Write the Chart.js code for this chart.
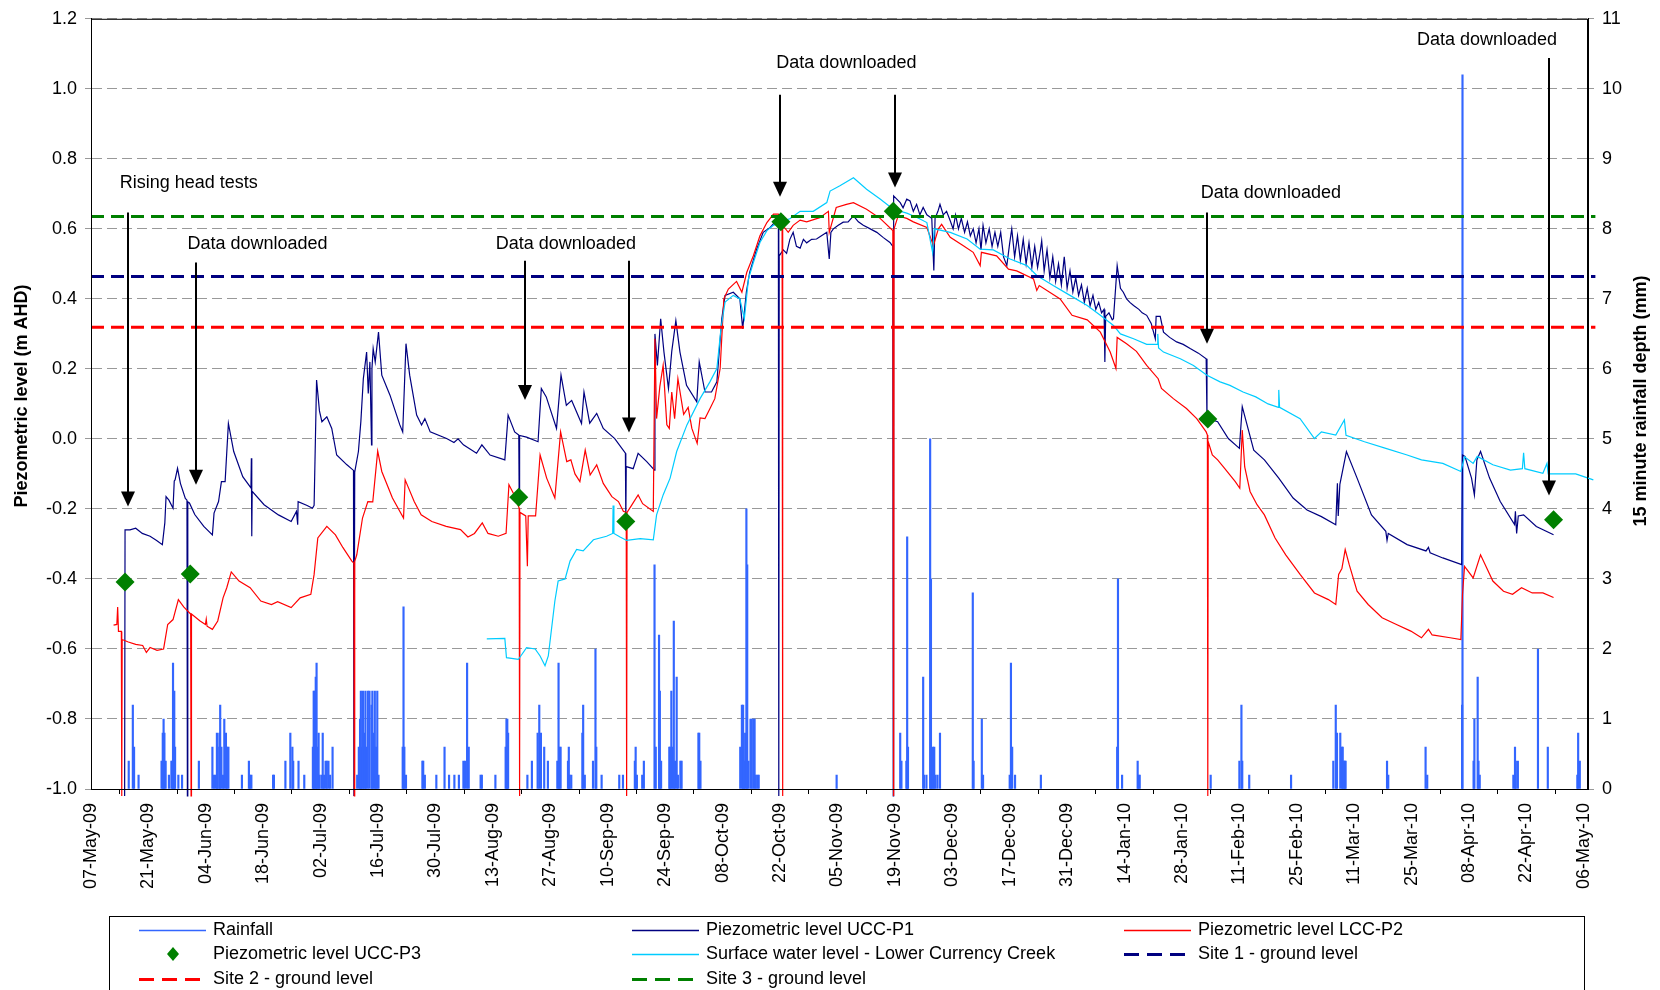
<!DOCTYPE html>
<html>
<head>
<meta charset="utf-8">
<script src="https://cdn.jsdelivr.net/npm/chart.js@4.4.1/dist/chart.umd.min.js"></script>
<style>
  html, body { margin: 0; padding: 0; background: #fff; }
  canvas { display: block; }
</style>
</head>
<body>
<canvas id="chartCanvas" width="1660" height="990"></canvas>
<script>
// x values are days after 07-May-09
const tickDays = [0,14,28,42,56,70,84,98,112,126,140,154,168,182,196,210,224,238,252,266,280,294,308,322,336,350,364];
const tickLabels = ["07-May-09","21-May-09","04-Jun-09","18-Jun-09","02-Jul-09","16-Jul-09","30-Jul-09","13-Aug-09","27-Aug-09","10-Sep-09","24-Sep-09","08-Oct-09","22-Oct-09","05-Nov-09","19-Nov-09","03-Dec-09","17-Dec-09","31-Dec-09","14-Jan-10","28-Jan-10","11-Feb-10","25-Feb-10","11-Mar-10","25-Mar-10","08-Apr-10","22-Apr-10","06-May-10"];
const leftTicks = [-1.0,-0.8,-0.6,-0.4,-0.2,0.0,0.2,0.4,0.6,0.8,1.0,1.2];
const rightTicks = [0,1,2,3,4,5,6,7,8,9,10,11];

// rainfall (mm per 15 min)
const rainDay = [9.2,10.2,10.5,11.6,17.2,17.5,17.7,17.9,18.2,19.0,19.6,19.9,20.0,20.3,20.5,21.3,22.2,26.3,29.6,30.0,30.4,30.7,30.9,31.3,31.5,31.8,32.2,32.5,32.9,33.2,33.5,36.8,38.5,38.8,39.1,44.4,44.6,47.4,48.6,49.1,49.3,50.6,52.0,54.1,54.3,54.5,54.8,55.0,55.2,55.5,55.7,56.2,56.5,56.8,57.2,57.5,57.9,58.3,58.9,64.9,65.3,65.6,65.8,66.0,66.3,66.6,66.9,67.1,67.5,67.9,68.4,68.6,68.9,69.2,69.5,69.8,70.1,76.0,76.2,76.4,76.8,80.8,81.0,81.4,84.2,86.2,87.3,88.6,89.7,90.8,91.2,91.7,92.1,95.0,95.3,98.6,101.1,101.3,101.5,101.7,106.4,107.5,108.9,109.3,109.7,110.5,111.4,113.7,114.0,114.2,114.5,116.3,116.5,116.7,117.1,119.8,120.0,120.4,122.4,123.0,123.2,124.5,128.8,129.7,132.6,132.8,133.1,134.4,134.8,137.4,137.7,138.5,138.7,139.0,141.0,141.2,141.5,141.8,142.1,142.4,142.8,143.1,143.7,144.0,148.1,148.3,148.6,158.3,158.7,159.0,159.2,159.5,159.8,160.0,160.3,160.8,161.1,161.5,161.8,162.1,162.5,162.8,181.8,197.3,197.6,198.8,199.0,199.2,202.9,203.1,203.7,204.6,204.8,205.0,205.3,205.6,205.9,206.4,207.0,215.0,215.2,217.2,217.5,224.0,224.3,224.6,225.3,231.6,250.2,250.4,251.4,255.2,255.4,255.7,273.0,280.0,280.5,280.7,282.4,292.6,302.9,303.5,303.8,304.6,305.0,305.2,305.5,305.7,305.9,316.0,316.3,325.4,325.8,334.3,334.4,337.1,337.3,338.1,338.3,338.6,346.8,347.2,347.4,347.9,352.8,355.2,362.4,362.6,363.0];
const rainMm = [0.4,1.2,0.6,0.2,0.4,0.8,1.0,0.8,0.4,0.2,0.4,0.4,1.8,1.4,0.6,0.2,0.2,0.4,0.6,0.2,0.2,0.8,0.6,0.8,1.2,0.6,0.2,1.0,0.8,0.6,0.6,0.2,0.4,0.2,0.2,0.2,0.2,0.4,0.8,0.6,0.4,0.4,0.2,0.6,1.4,1.4,1.6,1.8,0.6,0.8,0.2,0.2,0.8,0.2,0.4,0.4,0.4,0.2,0.6,0.2,0.6,1.0,1.4,0.6,1.4,0.8,1.4,0.6,1.4,1.4,1.2,1.4,0.8,1.4,0.6,1.4,0.2,0.6,2.6,0.6,0.2,0.4,0.4,0.2,0.2,0.6,0.2,0.2,0.2,0.4,0.4,1.8,0.6,0.2,0.2,0.2,0.6,1.0,1.0,0.8,0.2,0.4,0.8,1.2,0.8,0.6,0.4,0.4,1.8,0.6,0.6,0.4,0.6,0.2,0.2,0.8,1.2,0.2,0.4,2.0,0.6,0.2,0.2,0.2,0.4,0.6,0.2,0.2,0.4,3.2,0.6,2.2,1.4,0.4,0.6,0.6,1.4,0.6,2.4,0.4,1.6,0.2,0.4,0.4,0.8,0.8,0.4,0.6,1.2,1.2,0.4,0.8,4.0,3.2,0.4,1.0,1.0,1.0,1.0,0.2,0.2,0.2,0.2,0.8,0.4,0.4,3.6,0.6,1.6,0.2,0.2,5.0,3.0,0.2,0.6,0.6,0.2,0.2,0.8,2.8,0.4,1.0,0.2,0.2,1.8,0.6,0.2,0.2,0.6,3.0,0.2,0.4,0.2,0.2,0.2,0.4,1.2,0.4,0.2,0.2,0.4,1.2,0.8,0.8,0.6,0.6,0.4,0.4,0.4,0.4,0.2,0.6,0.2,1.2,10.2,0.4,1.0,1.6,0.4,0.2,0.2,0.6,0.4,0.4,2.0,0.6,0.2,0.8,0.4];

// Piezometric level UCC-P1 (m AHD)
const p1Day = [8.2,8.3,9.5,10.9,12.5,14.4,16.0,17.4,18.0,18.3,19.0,20.0,20.3,20.5,21.1,21.8,23.0,23.4,23.5,23.6,24.0,25.3,27.5,29.6,30.0,31.1,31.8,32.7,33.5,34.8,37.0,39.0,39.1,39.2,39.3,42.2,45.7,48.8,50.1,50.4,50.5,52.7,54.0,54.4,55.0,55.7,56.3,57.5,58.7,59.9,62.4,64.0,64.1,64.3,65.2,65.8,66.4,67.2,67.6,68.0,68.4,68.5,68.8,69.3,70.1,70.9,72.9,75.3,76.0,76.8,77.7,79.4,80.6,81.4,82.7,86.7,88.5,89.5,90.8,94.0,95.3,97.3,100.9,101.7,103.3,104.3,104.4,104.5,106.2,109.0,109.8,111.0,113.5,114.6,115.9,117.2,119.6,120.2,121.6,123.3,124.9,127.7,130.3,130.4,130.5,132.2,133.4,135.5,137.4,137.5,138.1,138.9,139.7,140.8,141.6,142.6,143.6,145.2,147.7,148.3,149.7,151.3,152.6,153.8,154.6,156.6,158.2,158.9,159.8,160.6,162.3,163.9,165.6,166.8,167.6,167.7,167.8,168.8,169.6,170.4,171.2,172.0,172.9,173.7,174.5,175.7,176.9,178.1,179.4,180.0,180.4,181.0,182.2,183.4,184.6,185.9,187.1,188.3,190.0,191.6,193.2,194.8,195.5,195.6,195.7,197.3,198.0,198.9,199.7,200.5,201.3,202.1,202.9,203.8,205.0,205.5,205.8,206.5,207.0,207.8,208.6,209.5,210.2,210.8,211.5,212.2,213.0,213.7,214.4,215.1,215.8,216.5,217.0,217.5,218.2,219.0,219.7,220.4,221.1,221.8,222.5,223.3,224.0,224.5,225.2,225.9,226.6,227.3,228.0,228.7,229.4,230.1,230.8,231.5,231.8,232.4,233.1,233.8,234.5,235.2,235.9,236.6,237.3,238.0,238.7,239.4,240.1,240.8,241.5,242.2,242.9,243.6,244.3,245.0,245.7,246.4,247.0,247.2,247.4,248.2,249.0,249.3,250.2,251.0,251.7,252.5,253.3,254.2,255.5,256.3,257.4,258.5,259.5,259.7,260.7,261.5,263.0,264.7,266.3,268.0,270.0,271.9,272.1,272.4,274.7,277.3,280.0,280.7,283.5,286.1,289.6,293.1,296.5,300.0,303.5,303.9,304.1,304.5,306.1,308.7,312.2,315.7,316.0,316.3,320.9,325.5,326.1,326.5,329.6,334.2,334.4,335.0,336.6,337.3,337.9,338.8,341.0,343.6,347.1,347.3,347.6,348.0,349.3,352.4,356.6];
const p1Val = [-1.02,-0.26,-0.26,-0.255,-0.27,-0.278,-0.29,-0.302,-0.24,-0.165,-0.175,-0.198,-0.12,-0.117,-0.084,-0.127,-0.17,-0.175,-1.02,-0.18,-0.183,-0.216,-0.25,-0.274,-0.212,-0.179,-0.122,-0.122,0.044,-0.036,-0.108,-0.14,-0.055,-0.278,-0.15,-0.188,-0.217,-0.236,-0.207,-0.245,-0.179,-0.19,-0.198,-0.19,0.168,0.08,0.049,0.063,0.030,-0.046,-0.074,-0.09,-1.02,-0.095,-0.036,0.05,0.172,0.248,0.13,0.22,-0.017,0.20,0.258,0.22,0.305,0.182,0.125,0.040,0.020,0.272,0.182,0.068,0.040,0.058,0.020,0.001,-0.01,0.0,-0.017,-0.041,-0.017,-0.046,-0.060,0.068,0.020,0.011,-0.167,0.01,0.005,-0.008,0.144,0.12,0.030,0.182,0.096,0.11,0.044,0.134,0.045,0.073,0.030,0.001,-0.041,-0.236,-0.079,-0.085,-0.041,-0.065,-0.089,0.30,0.210,0.343,0.248,0.144,0.25,0.338,0.248,0.153,0.106,0.220,0.134,0.134,0.163,0.343,0.410,0.419,0.40,0.315,0.42,0.476,0.542,0.590,0.604,0.62,0.61,-1.02,0.523,0.54,0.53,0.57,0.590,0.55,0.545,0.57,0.56,0.57,0.571,0.58,0.59,0.514,0.59,0.60,0.61,0.619,0.62,0.637,0.62,0.61,0.60,0.590,0.575,0.561,0.55,-1.02,0.694,0.675,0.66,0.685,0.68,0.65,0.67,0.64,0.661,0.64,0.63,0.481,0.63,0.65,0.670,0.64,0.65,0.623,0.60,0.64,0.60,0.63,0.59,0.62,0.58,0.60,0.56,0.60,0.54,0.61,0.56,0.60,0.55,0.59,0.55,0.59,0.52,0.495,0.56,0.60,0.52,0.58,0.51,0.57,0.50,0.56,0.49,0.55,0.49,0.54,0.566,0.48,0.54,0.46,0.52,0.45,0.50,0.44,0.52,0.43,0.48,0.42,0.46,0.41,0.44,0.39,0.43,0.38,0.41,0.37,0.39,0.36,0.37,0.22,0.35,0.36,0.34,0.343,0.495,0.43,0.419,0.40,0.39,0.381,0.37,0.36,0.353,0.33,0.286,0.35,0.35,0.305,0.29,0.277,0.27,0.258,0.245,0.229,0.057,0.058,0.049,0.001,-0.027,0.092,-0.032,-0.060,-0.112,-0.169,-0.203,-0.222,-0.245,-0.127,-0.22,-0.13,-0.036,-0.112,-0.217,-0.264,-0.29,-0.27,-0.302,-0.32,-0.31,-0.325,-0.340,-0.359,-0.046,-0.05,-0.112,-0.160,-0.06,-0.036,-0.112,-0.179,-0.245,-0.207,-0.27,-0.22,-0.217,-0.250,-0.274];

// Piezometric level LCC-P2 (m AHD)
const p2Day = [5.5,6.3,6.5,6.7,7.4,7.5,7.6,9.1,10.9,12.6,13.5,14.4,16.1,17.7,18.7,20.0,21.3,22.6,24.3,24.4,24.5,26.6,27.9,28.1,28.3,29.6,30.9,32.2,33.1,34.2,36.1,38.8,41.4,44.0,45.5,48.8,51.0,53.6,54.4,55.3,57.5,59.6,61.4,63.6,64.1,64.2,64.3,64.8,66.2,67.5,68.7,69.9,70.9,73.5,76.2,76.6,78.8,80.5,83.1,86.6,90.1,91.9,93.5,95.4,96.8,99.3,101.2,101.9,103.2,104.4,104.5,104.6,106.0,106.4,106.6,108.4,109.5,111.1,113.1,114.5,116.0,117.0,118.0,119.2,120.5,121.7,123.3,124.9,127.0,128.6,129.8,130.5,130.6,130.7,131.8,133.4,134.5,137.1,137.5,137.9,138.7,139.5,140.4,141.0,141.6,142.3,143.1,144.5,145.6,146.5,147.8,148.5,149.7,150.9,152.1,153.4,154.3,155.4,157.4,158.7,159.9,161.5,163.1,164.8,166.4,167.6,168.5,168.6,168.7,170.0,171.2,172.9,174.5,177.7,179.8,180.0,181.7,184.2,185.9,189.1,192.4,195.5,195.7,195.8,196.8,198.9,200.5,203.8,205.4,206.6,207.4,209.5,212.7,215.1,216.8,217.1,220.8,223.7,225.7,229.8,230.6,231.2,236.3,239.2,242.9,246.1,248.5,249.9,250.2,252.5,254.9,257.4,260.2,261.0,263.9,267.1,269.6,271.9,272.2,272.3,272.4,273.4,274.7,276.4,279.0,280.1,280.7,281.3,282.6,284.3,286.1,288.7,291.3,294.8,298.3,301.7,303.5,304.2,305.0,305.8,306.8,308.7,311.4,314.8,318.3,321.8,324.4,326.1,327.0,331.4,334.0,334.4,334.9,337.0,338.8,341.8,344.4,346.6,348.8,351.4,354.0,356.6];
const p2Val = [-0.532,-0.53,-0.48,-0.55,-0.55,-1.02,-0.573,-0.58,-0.587,-0.59,-0.61,-0.596,-0.604,-0.60,-0.530,-0.516,-0.459,-0.48,-0.50,-1.02,-0.50,-0.520,-0.53,-0.515,-0.535,-0.544,-0.52,-0.454,-0.425,-0.380,-0.406,-0.425,-0.463,-0.473,-0.465,-0.482,-0.454,-0.444,-0.387,-0.283,-0.250,-0.274,-0.31,-0.349,-0.355,-1.02,-0.35,-0.331,-0.226,-0.179,-0.18,-0.035,-0.093,-0.169,-0.226,-0.117,-0.179,-0.217,-0.236,-0.250,-0.259,-0.28,-0.27,-0.240,-0.27,-0.278,-0.27,-0.131,-0.16,-0.198,-1.02,-0.21,-0.22,-0.364,-0.22,-0.22,-0.046,-0.112,-0.169,0.020,-0.065,-0.06,-0.10,-0.122,-0.032,-0.103,-0.074,-0.127,-0.165,-0.179,-0.207,-0.21,-1.02,-0.21,-0.19,-0.160,-0.185,-0.207,0.286,0.058,0.15,0.210,0.040,0.03,0.134,0.058,0.172,0.07,0.09,0.030,-0.013,0.06,0.058,0.086,0.115,0.201,0.400,0.428,0.45,0.419,0.476,0.523,0.580,0.618,0.642,0.642,0.613,-1.02,0.61,0.59,0.61,0.625,0.62,0.632,0.65,0.590,0.661,0.67,0.675,0.656,0.63,0.595,-1.02,0.60,0.637,0.63,0.62,0.604,0.552,0.60,0.613,0.576,0.552,0.533,0.495,0.533,0.523,0.485,0.48,0.457,0.424,0.438,0.400,0.353,0.34,0.305,0.248,0.201,0.29,0.272,0.25,0.210,0.172,0.144,0.115,0.087,0.058,0.020,0.011,-1.02,-0.008,-0.046,-0.060,-0.084,-0.122,-0.141,0.025,-0.08,-0.150,-0.188,-0.217,-0.283,-0.331,-0.387,-0.440,-0.459,-0.473,-0.387,-0.37,-0.316,-0.36,-0.435,-0.473,-0.511,-0.530,-0.549,-0.568,-0.544,-0.56,-0.568,-0.573,-0.444,-0.364,-0.397,-0.331,-0.406,-0.435,-0.444,-0.425,-0.44,-0.44,-0.453];

// Piezometric level UCC-P3 (m AHD), manual readings
const p3Day = [8.3,24.2,104.3,130.4,168.2,195.6,272.3,356.6];
const p3Val = [-0.409,-0.386,-0.167,-0.236,0.620,0.650,0.057,-0.231];

// Surface water level - Lower Currency Creek (m AHD)
const swDay = [96.5,100.9,101.3,104.2,106.2,108.3,109.5,110.7,111.5,113.1,113.9,115.6,116.8,118.4,120.0,122.5,125.7,127.2,127.3,127.5,129.0,130.6,133.9,137.1,137.9,139.5,141.2,142.8,145.3,148.5,150.9,152.6,153.6,154.6,156.6,158.2,159.3,160.3,161.5,163.1,164.8,166.4,168.0,170.4,172.9,176.1,179.4,180.2,182.6,185.9,189.1,192.4,195.6,198.9,201.3,203.8,205.2,205.6,209.5,213.6,216.8,220.0,224.1,228.2,230.6,234.6,238.7,242.9,246.1,249.3,251.0,254.2,257.4,260.0,260.1,260.3,261.5,265.6,268.8,272.1,275.3,277.7,280.9,284.0,287.0,289.5,289.6,289.8,294.8,298.3,300.0,303.5,305.6,306.0,310.5,315.7,320.9,324.4,329.6,334.0,334.9,337.0,338.0,341.8,346.1,349.0,349.3,349.6,354.0,355.0,355.3,359.2,362.0,366.3];
const swVal = [-0.571,-0.57,-0.625,-0.63,-0.596,-0.60,-0.62,-0.648,-0.62,-0.463,-0.406,-0.40,-0.349,-0.316,-0.32,-0.288,-0.278,-0.27,-0.19,-0.27,-0.28,-0.29,-0.285,-0.288,-0.217,-0.160,-0.112,-0.036,0.040,0.115,0.163,0.201,0.315,0.391,0.41,0.40,0.343,0.457,0.504,0.561,0.595,0.61,0.62,0.629,0.65,0.65,0.675,0.708,0.723,0.746,0.713,0.685,0.656,0.645,0.633,0.618,0.533,0.6,0.590,0.571,0.542,0.54,0.514,0.495,0.467,0.438,0.410,0.381,0.353,0.324,0.30,0.286,0.27,0.27,0.30,0.26,0.248,0.229,0.210,0.182,0.163,0.153,0.134,0.12,0.10,0.09,0.14,0.09,0.058,0.001,0.020,0.011,0.054,0.01,-0.008,-0.027,-0.046,-0.060,-0.070,-0.093,-0.051,-0.07,-0.05,-0.074,-0.089,-0.085,-0.04,-0.085,-0.098,-0.07,-0.10,-0.10,-0.10,-0.117];

// ground levels (m AHD)
const groundDay = [0, 366.8];
const site1Level = 0.464;
const site2Level = 0.319;
const site3Level = 0.635;

// annotations
const noteText = ["Rising head tests","Data downloaded","Data downloaded","Data downloaded","Data downloaded","Data downloaded"];
const noteDay = [7.0, 23.5, 98.7, 167.1, 270.6, 323.3];
const noteVal = [0.732, 0.556, 0.556, 1.074, 0.702, 1.140];
const arrowDay = [9.0, 25.5, 105.7, 131.1, 168.0, 196.0, 272.2, 355.4];
const arrowTop = [0.647, 0.504, 0.509, 0.509, 0.983, 0.983, 0.647, 1.088];
const arrowTip = [-0.193, -0.131, 0.111, 0.018, 0.692, 0.718, 0.272, -0.162];

const FONT = '"Liberation Sans", Arial, sans-serif';
Chart.defaults.font.family = FONT;
Chart.defaults.font.size = 18;
Chart.defaults.color = '#000';

function pts(xs, ys) {
  return xs.map((d, i) => ({x: d, y: ys[i]}));
}
function flat(xs, v) {
  return xs.map(d => ({x: d, y: v}));
}

const decor = {
  id: 'decor',
  afterDatasetsDraw(chart) {
    const {ctx, chartArea: a} = chart;
    const sx = chart.scales.x, sy = chart.scales.y;
    ctx.save();
    ctx.strokeStyle = '#000';
    ctx.lineWidth = 1;
    ctx.strokeRect(a.left + 0.5, a.top + 0.5, a.right - a.left - 1, a.bottom - a.top);

    // arrows
    ctx.fillStyle = '#000';
    ctx.lineWidth = 2;
    for (let i = 0; i < arrowDay.length; i++) {
      const px = Math.round(sx.getPixelForValue(arrowDay[i]));
      const y0 = sy.getPixelForValue(arrowTop[i]);
      const y1 = sy.getPixelForValue(arrowTip[i]);
      ctx.beginPath();
      ctx.moveTo(px, y0);
      ctx.lineTo(px, y1 - 10);
      ctx.stroke();
      ctx.beginPath();
      ctx.moveTo(px - 7, y1 - 15);
      ctx.lineTo(px + 7, y1 - 15);
      ctx.lineTo(px, y1);
      ctx.closePath();
      ctx.fill();
    }
    ctx.font = '18px ' + FONT;
    ctx.textAlign = 'left';
    ctx.textBaseline = 'middle';
    for (let i = 0; i < noteText.length; i++) {
      ctx.fillText(noteText[i], sx.getPixelForValue(noteDay[i]), sy.getPixelForValue(noteVal[i]));
    }
    ctx.restore();
  },
  afterDraw(chart) {
    const ctx = chart.ctx;
    ctx.save();
    // axis titles
    ctx.font = 'bold 18px ' + FONT;
    ctx.fillStyle = '#000';
    ctx.textAlign = 'center';
    ctx.textBaseline = 'middle';
    ctx.translate(22, 396);
    ctx.rotate(-Math.PI / 2);
    ctx.fillText('Piezometric level (m AHD)', 0, 0);
    ctx.setTransform(1, 0, 0, 1, 0, 0);
    ctx.translate(1641, 401);
    ctx.rotate(-Math.PI / 2);
    ctx.fillText('15 minute rainfall depth (mm)', 0, 0);
    ctx.setTransform(1, 0, 0, 1, 0, 0);

    // legend
    ctx.strokeStyle = '#000';
    ctx.lineWidth = 1;
    ctx.strokeRect(109.5, 916.5, 1475, 120);
    const colX = [139, 632, 1124];
    const rowY = [930, 954, 979];
    ctx.font = '18px ' + FONT;
    ctx.textAlign = 'left';
    chart.data.datasets.forEach((ds, i) => {
      const cx = colX[i % 3], cy = rowY[Math.floor(i / 3)];
      if (ds.showLine === false) {
        ctx.fillStyle = ds.backgroundColor;
        ctx.beginPath();
        ctx.moveTo(cx + 34, cy - 7);
        ctx.lineTo(cx + 40, cy);
        ctx.lineTo(cx + 34, cy + 7);
        ctx.lineTo(cx + 28, cy);
        ctx.closePath();
        ctx.fill();
      } else {
        ctx.strokeStyle = ds.type === 'bar' ? ds.backgroundColor : ds.borderColor;
        ctx.lineWidth = ds.borderDash ? 3 : 1.5;
        ctx.setLineDash(ds.borderDash ? [15, 8] : []);
        ctx.beginPath();
        ctx.moveTo(cx, cy + 0.5);
        ctx.lineTo(cx + 67, cy + 0.5);
        ctx.stroke();
        ctx.setLineDash([]);
      }
      ctx.fillStyle = '#000';
      ctx.fillText(ds.label, cx + 74, cy);
    });
    ctx.restore();
  }
};

const canvas = document.getElementById('chartCanvas');
const chart = new Chart(canvas, {
  type: 'line',
  data: {
    datasets: [{
      type: 'bar',
      label: 'Rainfall',
      data: pts(rainDay, rainMm),
      yAxisID: 'y2',
      backgroundColor: '#3366ff',
      barThickness: 1.5,
      order: 9
    }, {
      label: 'Piezometric level UCC-P1',
      data: pts(p1Day, p1Val),
      borderColor: '#000080',
      borderWidth: 1.2,
      pointRadius: 0,
      clip: false,
      order: 8
    }, {
      label: 'Piezometric level LCC-P2',
      data: pts(p2Day, p2Val),
      borderColor: '#ff0000',
      borderWidth: 1.2,
      pointRadius: 0,
      clip: false,
      order: 7
    }, {
      label: 'Piezometric level UCC-P3',
      data: pts(p3Day, p3Val),
      showLine: false,
      pointStyle: 'rectRot',
      pointRadius: 9.5,
      backgroundColor: '#008000',
      borderColor: '#008000',
      borderWidth: 0,
      order: 0
    }, {
      label: 'Surface water level - Lower Currency Creek',
      data: pts(swDay, swVal),
      borderColor: '#00ccff',
      borderWidth: 1.2,
      pointRadius: 0,
      clip: false,
      order: 6
    }, {
      label: 'Site 1 - ground level',
      data: flat(groundDay, site1Level),
      borderColor: '#000080',
      borderWidth: 3,
      borderDash: [13, 7],
      pointRadius: 0,
      clip: false,
      order: 3
    }, {
      label: 'Site 2 - ground level',
      data: flat(groundDay, site2Level),
      borderColor: '#ff0000',
      borderWidth: 3,
      borderDash: [13, 7],
      pointRadius: 0,
      clip: false,
      order: 2
    }, {
      label: 'Site 3 - ground level',
      data: flat(groundDay, site3Level),
      borderColor: '#008000',
      borderWidth: 3,
      borderDash: [13, 7],
      pointRadius: 0,
      clip: false,
      order: 1
    }]
  },
  options: {
    responsive: false,
    animation: false,
    events: [],
    layout: { padding: { top: 16, left: 0, right: 0, bottom: 0 } },
    plugins: { legend: { display: false }, tooltip: { enabled: false } },
    scales: {
      x: {
        type: 'linear',
        position: 'bottom',
        min: 0,
        max: 365,
        offset: false,
        afterBuildTicks: s => { s.ticks = tickDays.map(v => ({value: v})); },
        afterFit: s => { s.height = 201; },
        ticks: {
          autoSkip: false,
          minRotation: 90,
          maxRotation: 90,
          padding: 9,
          callback: (v, i) => tickLabels[i]
        },
        grid: { drawOnChartArea: false, tickLength: 5, color: '#000' },
        border: { display: true, color: '#000', width: 1 }
      },
      y: {
        position: 'left',
        min: -1.0,
        max: 1.2,
        afterBuildTicks: s => { s.ticks = leftTicks.map(v => ({value: v})); },
        afterFit: s => { s.width = 91; },
        ticks: { padding: 8, callback: v => v.toFixed(1) },
        grid: { color: '#999999', lineWidth: 1, tickLength: 6, tickBorderDash: [] },
        border: { display: true, color: '#000', width: 1, dash: [10, 5] }
      },
      y2: {
        position: 'right',
        min: 0,
        max: 11,
        afterBuildTicks: s => { s.ticks = rightTicks.map(v => ({value: v})); },
        afterFit: s => { s.width = 72; },
        ticks: { padding: 8, callback: v => String(v) },
        grid: { drawOnChartArea: false, color: '#999999', tickLength: 6 },
        border: { display: true, color: '#000', width: 1 }
      }
    }
  },
  plugins: [decor]
});
</script>
</body>
</html>
